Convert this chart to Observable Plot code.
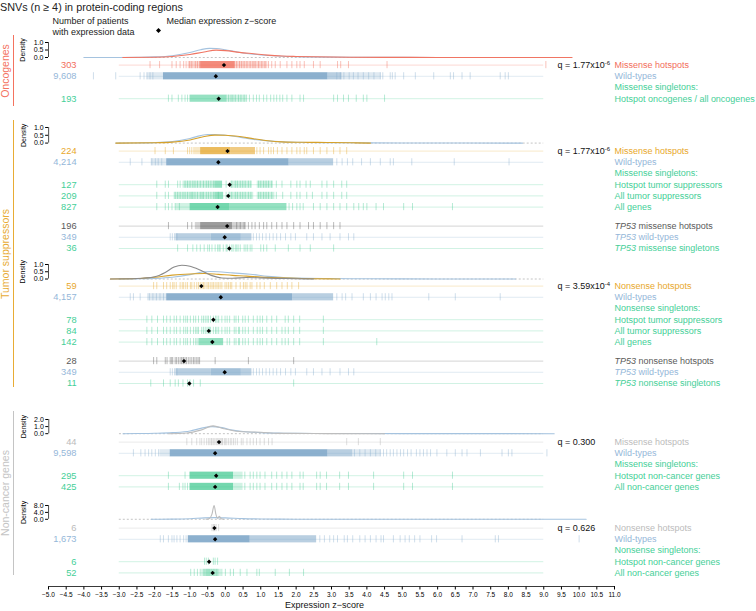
<!DOCTYPE html>
<html>
<head>
<meta charset="utf-8">
<script src="https://cdn.jsdelivr.net/npm/d3@7"></script>
<script src="https://cdn.jsdelivr.net/npm/@observablehq/plot@0.6"></script>
<style>
  html, body { margin: 0; padding: 0; background: #fff; }
  #chart { position: relative; width: 756px; height: 611px; font-family: "Liberation Sans", Arial, sans-serif; overflow: hidden; }
  #chart .abs { position: absolute; white-space: nowrap; line-height: 1; }
</style>
</head>
<body>
<div id="chart"></div>
<script>
// ---------------- DATA ----------------
const X_DOMAIN = [-5, 11];
const ROW_LINE = [-3, 9];
const X_TICKS = [-5.0,-4.5,-4.0,-3.5,-3.0,-2.5,-2.0,-1.5,-1.0,-0.5,0.0,0.5,1.0,1.5,2.0,2.5,3.0,3.5,4.0,4.5,5.0,5.5,6.0,6.5,7.0,7.5,8.0,8.5,9.0,9.5,10.0,10.5,11.0];

const rowKeys    = ["onco_hot","onco_wt","onco_sgl","ts_hot","ts_wt","ts_sgl_hot","ts_sgl_all","ts_sgl_genes","tp53_ms_hot","tp53_wt","tp53_ms_sgl","ts_ns_hot","ts_ns_wt","ts_ns_sgl_hot","ts_ns_sgl_all","ts_ns_sgl_genes","tp53_ns_hot","tp53_ns_sgl","nc_ms_hot","nc_ms_wt","nc_ms_sgl_hot","nc_ms_sgl_all","nc_ns_hot","nc_ns_wt","nc_ns_sgl_hot","nc_ns_sgl_all"];
const rowCounts  = [303,9608,193,224,4214,127,209,827,196,349,36,59,4157,78,84,142,28,11,44,9598,295,425,6,1673,6,52];
const rowMedians = [-0.04,-0.27,-0.19,0.06,-0.20,0.12,0.08,-0.22,0.05,-0.02,0.11,-0.68,-0.13,-0.34,-0.47,-0.37,-1.17,-1.02,-0.18,-0.29,-0.26,-0.29,-0.31,-0.29,-0.46,-0.36];
const rowGroups  = ["onco","wt","sgl","ts","wt","sgl","sgl","sgl","tp53","wt","sgl","ts","wt","sgl","sgl","sgl","tp53","sgl","nc","wt","sgl","sgl","nc","wt","sgl","sgl"];

// individual visible ticks (z-scores)
const T_ONCO_HOT = [-2.13,-1.86,-1.51,-1.39,-1.28,-1.18,-1.11,-1.01,-0.95,-0.85,-0.79,-0.73,0.32,0.40,0.46,0.53,0.61,0.70,0.78,0.84,0.94,1.03,1.12,1.22,1.31,1.41,1.55,1.74,1.88,2.02,2.11,2.23,2.49,2.68,3.17,3.26,3.48,4.57,9.06];
const T_ONCO_WT = [-3.73,-3.10,-2.41,-2.30,-2.22,-2.13,-2.05,3.15,3.25,3.35,3.50,3.62,3.75,3.90,4.05,4.20,4.38,4.45,4.66,4.72,4.80,5.04,5.37,5.89,6.36,6.45,6.69,6.92,7.77,7.91,8.00];
const T_ONCO_SGL = [-1.61,-1.51,-1.33,-1.23,-1.14,-1.07,0.09,0.16,0.21,0.28,0.37,0.44,0.53,0.60,0.68,0.79,0.88,0.96,1.08,1.17,1.28,1.37,1.45,1.54,1.62,1.74,1.88,2.11,2.21,3.06,3.17,3.34,3.48,3.70,3.90,4.00,4.50];
const T_TS_HOT = [-1.99,-1.70,-1.47,-1.07,-1.01,-0.95,0.89,0.98,1.08,1.22,1.29,1.36,1.47,1.60,1.74,1.88,2.02,2.11,2.23,2.30,2.49,2.68,2.87,3.06,3.24,3.43];
const T_TS_WT = [-2.69,-2.36,-2.08,-1.98,-1.90,-1.80,3.15,3.30,3.45,3.60,3.85,4.10,4.38,4.66,4.75,5.27,6.47,8.02];
const T_TS_SGL_HOT = [-1.94,-1.70,-1.61,-1.35,-1.28,-1.14,-1.07,-1.00,-0.92,-0.86,-0.79,-0.71,-0.62,-0.54,-0.48,-0.41,-0.34,0.02,0.18,0.28,0.34,0.42,0.49,0.56,0.65,0.72,0.94,1.00,1.08,1.15,1.22,1.31,1.44,1.60,1.85,2.02,2.11,2.28,2.40,2.73,2.87,3.06,3.29,3.43];
const T_TS_SGL_ALL = [-1.94,-1.70,-1.61,-1.42,-1.35,-1.28,-1.20,-1.14,-1.07,-1.00,-0.95,-0.92,-0.86,-0.79,-0.71,-0.66,-0.62,-0.54,-0.48,-0.41,-0.34,-0.20,0.02,0.10,0.18,0.28,0.34,0.42,0.49,0.56,0.65,0.72,0.94,1.00,1.08,1.15,1.22,1.31,1.44,1.62,1.85,2.02,2.11,2.30,2.46,2.73,2.87,3.06,3.29,3.43];
const T_TS_SGL_GENES = [-1.94,-1.70,-1.61,-1.51,-1.42,-1.30,1.80,1.90,2.02,2.11,2.20,2.49,2.68,2.87,3.06,3.24,3.43,3.63,3.77,3.90,4.00,4.26,4.47,5.04,5.29,6.42];
const T_TP53_MS_HOT = [-1.61,-1.07,-0.95,0.32,0.42,0.53,0.65,0.75,0.84,0.96,1.08,1.17,1.31,1.45,1.60,1.74,1.93,2.11,2.35,2.49,2.68,2.87,3.06,3.24];
const T_TP53_WT = [-1.56,-1.50,-1.44,-1.37,0.79,0.88,0.96,1.05,1.15,1.25,1.35,1.45,1.56,1.70,1.85,1.98,2.30,2.49,2.73,2.96,3.24,3.48,3.63];
const T_TP53_MS_SGL = [-1.35,-1.07,-0.92,-0.81,-0.71,-0.60,-0.50,-0.45,-0.38,-0.29,-0.22,-0.18,-0.15,-0.06,0.02,0.05,0.12,0.18,0.22,0.28,0.32,0.36,0.42,0.53,0.58,0.63,0.70,0.75,1.00,1.08,1.17,1.41,1.78,2.11,2.40,3.06];
const T_TS_NS_HOT = [-2.03,-1.94,-1.75,-1.66,-1.56,-1.49,-1.45,-1.39,-1.28,-1.22,-1.18,-1.12,-1.07,-0.99,-0.95,-0.88,-0.81,-0.76,-0.71,-0.66,-0.62,-0.58,-0.52,-0.48,-0.43,-0.38,-0.34,-0.29,-0.24,-0.20,-0.15,-0.10,-0.01,0.04,0.09,0.14,0.18,0.30,0.42,0.51,0.56,0.61,0.70,0.75,0.89,0.98,1.10,1.27,1.45,1.60,1.75,1.88,2.07];
const T_TS_NS_WT = [-2.69,-2.60,-2.41,-2.15,-2.05,-1.95,-1.85,-1.75,3.15,3.30,3.40,3.58,3.90,4.10,4.26,4.43,4.52,4.62,4.71,5.75,6.50,7.77];
const T_TS_NS_SGL_HOT = [-2.22,-2.08,-1.92,-1.75,-1.66,-1.56,-1.45,-1.38,-1.28,-1.18,-1.12,-1.07,-0.99,-0.90,-0.84,-0.76,-0.67,-0.62,-0.57,-0.52,-0.48,-0.42,-0.34,-0.28,-0.24,-0.19,-0.10,-0.01,0.05,0.12,0.25,0.30,0.37,0.49,0.56,0.65,0.79,0.90,0.98,1.05,1.17,1.31,1.45,1.69,1.78,1.93,2.10,2.77];
const T_TS_NS_SGL_ALL = [-2.22,-2.08,-1.92,-1.75,-1.66,-1.56,-1.45,-1.38,-1.28,-1.18,-1.12,-1.07,-0.99,-0.90,-0.84,-0.80,-0.76,-0.67,-0.62,-0.57,-0.52,-0.48,-0.45,-0.42,-0.34,-0.28,-0.24,-0.19,-0.10,-0.01,0.05,0.12,0.25,0.30,0.37,0.40,0.49,0.56,0.65,0.79,0.90,0.98,1.05,1.17,1.31,1.45,1.60,1.69,1.78,1.93,2.10,2.77];
const T_TS_NS_SGL_GENES = [-2.22,-2.08,-1.92,-1.75,-1.66,-1.56,-1.45,-1.38,-1.28,-1.18,-1.12,-1.07,-0.99,-0.90,-0.84,-0.80,0.05,0.12,0.25,0.30,0.37,0.40,0.49,0.56,0.65,0.79,0.90,0.98,1.05,1.17,1.31,1.45,1.60,1.69,1.78,1.93,2.10,2.77,4.28];
const T_TP53_NS_HOT = [-2.03,-1.94,-1.70,-1.65,-1.56,-1.52,-1.49,-1.42,-1.38,-1.33,-1.28,-1.24,-1.20,-1.18,-1.14,-1.10,-1.05,-1.00,-0.95,-0.90,-0.86,-0.81,-0.77,-0.73,-0.29,0.65,1.93];
const T_TP53_NS_SGL = [-2.11,-1.75,-1.56,-1.42,-1.33,-1.20,-1.07,-1.00,-0.90,-0.71,1.93];
const T_NC_MS_HOT = [-1.09,-0.95,-0.81,-0.72,-0.67,-0.60,-0.53,-0.48,-0.44,-0.40,-0.38,-0.34,-0.30,-0.26,-0.23,-0.20,-0.16,-0.13,-0.10,-0.08,-0.03,0.00,0.04,0.09,0.14,0.18,0.23,0.28,0.34,0.45,0.50,0.61,0.70,0.79,0.88,0.98,1.10,1.22,1.32,3.43,3.76,4.38];
const T_NC_MS_WT = [-2.60,-2.39,-2.27,-2.17,-2.08,-1.98,-1.89,3.65,3.80,3.95,4.10,4.25,4.38,4.47,4.56,4.66,4.75,4.85,4.95,5.04,5.15,5.25,5.40,5.50,5.60,5.70,5.80,5.98,6.26,6.50,6.69,6.83,7.21,7.82,8.00,8.10,9.09];
const T_NC_MS_SGL_HOT = [-1.61,-1.14,0.55,0.70,0.79,0.89,0.98,1.12,1.31,1.45,1.60,1.74,1.88,2.11,2.20,2.58,2.68,2.86,3.23,3.48,4.19,5.04,5.29,6.42];
const T_NC_MS_SGL_ALL = [-1.61,-1.30,-1.20,-1.14,-1.07,0.55,0.70,0.79,0.89,0.98,1.12,1.31,1.45,1.60,1.74,1.88,2.11,2.20,2.58,2.68,2.86,3.23,3.48,4.19,5.04,5.29,6.42];
const T_NC_NS_HOT = [-0.38,-0.34,-0.32,-0.30,-0.26,-0.19];
const T_NC_NS_WT = [-1.84,-1.75,-1.61,-1.51,-1.45,-1.37,-1.28,-1.18,-1.11,2.67,2.80,2.95,3.06,3.17,3.36,3.45,3.60,3.80,3.95,4.10,4.26,4.40,4.47,4.75,4.94,5.08,5.20,5.35,5.50,5.83,5.97,6.69,7.63,7.72,10.00];
const T_NC_NS_SGL_HOT = [-0.59,-0.54,-0.48,-0.34,-0.29,-0.22];
const T_NC_NS_SGL_ALL = [-0.98,-0.88,-0.79,-0.71,-0.66,-0.62,-0.58,-0.54,-0.51,-0.48,-0.45,-0.41,-0.38,-0.34,-0.30,-0.26,-0.23,-0.19,-0.15,-0.10,0.00,0.14,0.23,0.42,0.61,0.89,0.96,1.41,1.81,2.21];
const rowTicks = [T_ONCO_HOT,T_ONCO_WT,T_ONCO_SGL,T_TS_HOT,T_TS_WT,T_TS_SGL_HOT,T_TS_SGL_ALL,T_TS_SGL_GENES,T_TP53_MS_HOT,T_TP53_WT,T_TP53_MS_SGL,T_TS_NS_HOT,T_TS_NS_WT,T_TS_NS_SGL_HOT,T_TS_NS_SGL_ALL,T_TS_NS_SGL_GENES,T_TP53_NS_HOT,T_TP53_NS_SGL,T_NC_MS_HOT,T_NC_MS_WT,T_NC_MS_SGL_HOT,T_NC_MS_SGL_ALL,T_NC_NS_HOT,T_NC_NS_WT,T_NC_NS_SGL_HOT,T_NC_NS_SGL_ALL];

// ranges too dense to resolve single ticks: [from, to, density class]
const D_ONCO_HOT = [[-1.05,-0.70,"light"],[-0.70,0.28,"dense"],[0.28,1.20,"light"]];
const D_ONCO_WT = [[-2.20,-1.75,"light"],[-1.75,2.90,"solid"],[2.90,3.30,"mid"],[3.30,4.40,"light"]];
const D_ONCO_SGL = [[-1.00,0.05,"mid"],[0.05,0.60,"light"]];
const D_TS_HOT = [[-0.90,-0.70,"light"],[-0.70,0.15,"dense"],[0.15,0.85,"mid"]];
const D_TS_WT = [[-2.10,-1.66,"light"],[-1.66,1.80,"solid"],[1.80,3.06,"mid"]];
const D_TS_SGL_HOT = [[-1.20,-0.30,"light"],[-0.30,-0.08,"mid"],[0.15,0.75,"light"],[0.90,1.35,"light"]];
const D_TS_SGL_ALL = [[-1.45,-0.30,"light"],[-0.30,-0.05,"mid"],[0.12,0.80,"light"],[0.90,1.40,"light"]];
const D_TS_SGL_GENES = [[-1.40,-1.00,"light"],[-1.00,0.13,"dense"],[0.13,1.74,"mid"]];
const D_TP53_MS_HOT = [[-0.85,-0.70,"light"],[-0.70,0.20,"mid"],[0.20,0.60,"light"]];
const D_TP53_WT = [[-1.40,-0.40,"mid"],[-0.40,0.45,"dense"],[0.45,0.75,"mid"]];
const D_NONE = [];
const D_TS_NS_WT = [[-2.20,-1.66,"light"],[-1.66,1.90,"solid"],[1.90,3.06,"mid"]];
const D_TS_NS_SGL_GENES = [[-0.75,-0.05,"mid"]];
const D_NC_MS_WT = [[-1.85,-1.56,"light"],[-1.56,2.90,"solid"],[2.90,3.60,"mid"],[3.60,4.40,"light"]];
const D_NC_MS_SGL = [[-1.00,0.23,"dense"],[0.23,0.50,"light"]];
const D_NC_NS_WT = [[-1.05,0.70,"solid"],[0.70,2.58,"mid"]];
const D_NC_NS_SGL_ALL = [[-0.60,-0.20,"light"]];
const rowDense = [D_ONCO_HOT,D_ONCO_WT,D_ONCO_SGL,D_TS_HOT,D_TS_WT,D_TS_SGL_HOT,D_TS_SGL_ALL,D_TS_SGL_GENES,D_TP53_MS_HOT,D_TP53_WT,D_NONE,D_NONE,D_TS_NS_WT,D_NONE,D_NONE,D_TS_NS_SGL_GENES,D_NONE,D_NONE,D_NONE,D_NC_MS_WT,D_NC_MS_SGL,D_NC_MS_SGL,D_NONE,D_NC_NS_WT,D_NONE,D_NC_NS_SGL_ALL];

// row blocks: rows (null = header line only), right-hand labels, label groups, q values
const blockRows = [
  ["onco_hot","onco_wt",null,"onco_sgl"],
  ["ts_hot","ts_wt",null,"ts_sgl_hot","ts_sgl_all","ts_sgl_genes"],
  ["tp53_ms_hot","tp53_wt","tp53_ms_sgl"],
  ["ts_ns_hot","ts_ns_wt",null,"ts_ns_sgl_hot","ts_ns_sgl_all","ts_ns_sgl_genes"],
  ["tp53_ns_hot","tp53_wt","tp53_ns_sgl"],
  ["nc_ms_hot","nc_ms_wt",null,"nc_ms_sgl_hot","nc_ms_sgl_all"],
  ["nc_ns_hot","nc_ns_wt",null,"nc_ns_sgl_hot","nc_ns_sgl_all"]
];
const blockLabels = [
  ["Missense hotspots","Wild-types","Missense singletons:","Hotspot oncogenes / all oncogenes"],
  ["Missense hotspots","Wild-types","Missense singletons:","Hotspot tumor suppressors","All tumor suppressors","All genes"],
  ["TP53 missense hotspots","TP53 wild-types","TP53 missense singletons"],
  ["Nonsense hotspots","Wild-types","Nonsense singletons:","Hotspot tumor suppressors","All tumor suppressors","All genes"],
  ["TP53 nonsense hotspots","TP53 wild-types","TP53 nonsense singletons"],
  ["Missense hotspots","Wild-types","Missense singletons:","Hotspot non-cancer genes","All non-cancer genes"],
  ["Nonsense hotspots","Wild-types","Nonsense singletons:","Hotspot non-cancer genes","All non-cancer genes"]
];
const blockLabelGroups = [
  ["onco","wt","sgl","sgl"],
  ["ts","wt","sgl","sgl","sgl","sgl"],
  ["tp53","wt","sgl"],
  ["ts","wt","sgl","sgl","sgl","sgl"],
  ["tp53","wt","sgl"],
  ["nc","wt","sgl","sgl","sgl"],
  ["nc","wt","sgl","sgl","sgl"]
];
const blockQ = ["1.77x10^-6","1.77x10^-6",null,"3.59x10^-4",null,"0.300","0.626"];

// density curves: [z-score, density]
const DENS_ONCO_WT = [[-4.0,0],[-3.0,0.005],[-2.5,0.015],[-2.0,0.04],[-1.5,0.12],[-1.0,0.33],[-0.7,0.52],[-0.45,0.61],[-0.25,0.6],[0,0.52],[0.3,0.38],[0.6,0.27],[1.0,0.17],[1.5,0.1],[2.0,0.06],[3.0,0.025],[4.0,0.012],[6.0,0.004],[8.0,0]];
const DENS_ONCO_HOT = [[-2.9,0],[-2.0,0.02],[-1.5,0.07],[-1.0,0.2],[-0.6,0.37],[-0.26,0.49],[0,0.46],[0.4,0.34],[0.8,0.25],[1.2,0.16],[1.6,0.1],[2.0,0.07],[2.5,0.045],[3.0,0.03],[3.5,0.02],[4.5,0.01],[6.0,0.005],[9.8,0]];
const DENS_TSMS_WT = [[-3.1,0],[-2.5,0.01],[-2.0,0.03],[-1.5,0.1],[-1.0,0.3],[-0.7,0.48],[-0.5,0.55],[-0.3,0.55],[0,0.5],[0.4,0.38],[0.8,0.24],[1.2,0.14],[1.6,0.08],[2.0,0.05],[3.0,0.025],[4.0,0.015],[6.0,0.005],[8.4,0]];
const DENS_TSMS_HOT = [[-3.1,0],[-2.0,0.02],[-1.5,0.06],[-1.0,0.2],[-0.6,0.42],[-0.3,0.51],[0,0.5],[0.4,0.42],[0.8,0.28],[1.2,0.15],[1.6,0.08],[2.2,0.05],[3.0,0.04],[3.6,0.02],[4.1,0]];
const DENS_TSNS_WT = [[-3.0,0],[-2.5,0.01],[-2.0,0.04],[-1.5,0.12],[-1.0,0.3],[-0.65,0.48],[-0.43,0.52],[-0.2,0.5],[0.2,0.42],[0.7,0.33],[1.2,0.18],[1.64,0.1],[2.0,0.06],[3.0,0.03],[4.0,0.015],[6.0,0.005],[8.2,0]];
const DENS_TSNS_HOT = [[-3.25,0],[-2.5,0.03],[-2.0,0.12],[-1.5,0.27],[-1.0,0.35],[-0.6,0.38],[-0.2,0.32],[0.2,0.25],[0.6,0.2],[1.0,0.13],[1.5,0.08],[2.0,0.05],[2.5,0.02],[3.24,0]];
const DENS_TSNS_TP53 = [[-3.25,0],[-2.5,0.03],[-2.0,0.15],[-1.7,0.45],[-1.45,0.82],[-1.23,0.95],[-1.0,0.88],[-0.7,0.6],[-0.4,0.25],[-0.1,0.07],[0.2,0.05],[0.6,0.1],[1.0,0.08],[1.5,0.04],[2.0,0.02],[2.5,0]];
const DENS_NCMS_WT = [[-2.9,0],[-2.5,0.02],[-2.0,0.06],[-1.5,0.15],[-1.0,0.38],[-0.7,0.75],[-0.38,1.0],[-0.1,0.85],[0.2,0.5],[0.5,0.3],[1.0,0.15],[1.5,0.08],[2.0,0.05],[3.0,0.03],[5.0,0.01],[9.3,0]];
const DENS_NCMS_HOT = [[-1.6,0],[-1.1,0.1],[-0.7,0.5],[-0.35,1.1],[-0.05,0.7],[0.4,0.3],[1.0,0.2],[1.5,0.05],[2.5,0.02],[4.5,0]];
const DENS_NCNS_WT = [[-2.1,0],[-1.5,0.1],[-1.0,0.35],[-0.6,0.8],[-0.3,0.95],[0,0.8],[0.5,0.4],[1.0,0.2],[1.5,0.1],[2.0,0.06],[3.0,0.03],[5.0,0.01],[10.2,0]];
const DENS_NCNS_HOT = [[-0.55,0],[-0.45,0.5],[-0.38,3.0],[-0.32,8.0],[-0.27,3.0],[-0.22,0.6],[-0.17,1.8],[-0.12,0.3],[-0.05,0]];

const densYmax = [1, 1, 1, 2, 8];
const densCurves = [
  [[ "wt", DENS_ONCO_WT ], [ "onco", DENS_ONCO_HOT ]],
  [[ "wt", DENS_TSMS_WT ], [ "ts", DENS_TSMS_HOT ]],
  [[ "wt", DENS_TSNS_WT ], [ "ts", DENS_TSNS_HOT ], [ "tp53", DENS_TSNS_TP53 ]],
  [[ "wt", DENS_NCMS_WT ], [ "nc", DENS_NCMS_HOT ]],
  [[ "wt", DENS_NCNS_WT ], [ "nc", DENS_NCNS_HOT ]]
];

const sectionNames = ["Oncogenes", "Tumor suppressors", "Non-cancer genes"];
const sectionGroups = ["onco", "ts", "nc"];

// ---------------- STYLE & LAYOUT ----------------
const FONT = '"Liberation Sans", Arial, sans-serif';
const W = 756, ML = 48, MR = 142;
const SLOT = 11.2, TH = 0.32;
const COLORS = {
  onco: {mark: "#EF5E49", text: "#F26D5B", curve: "#F07563", section: "#F4735F"},
  wt:   {mark: "#7FA7C9", text: "#95B7D9", curve: "#A5C3DF"},
  sgl:  {mark: "#3FC88F", text: "#45CF98"},
  ts:   {mark: "#E3A11E", text: "#E8A82C", curve: "#D6A12A", section: "#E8AC35"},
  tp53: {mark: "#4A4A4A", text: "#5A5A5A", curve: "#8A8A8A"},
  nc:   {mark: "#A8A8A8", text: "#BBBBBB", curve: "#BDBDBD", section: "#C4C4C4"}
};
const LEVEL_OPACITY = {solid: 0.9, dense: 0.72, mid: 0.55, light: 0.24};
const blockFirstY = [65, 150.7, 225.3, 285.5, 361, 441.9, 527.3];
const densBase = [57.3, 142.3, 278, 433.6, 518.8];
const densTop  = [42.3, 126.7, 263.5, 419.4, 505.0];
const sectionSpan = [[35, 106], [120, 387], [411, 575]];
const AXIS_Y = 586;

// ---------------- BUILD ----------------
const chart = document.getElementById("chart");
const rowTable = {};
rowKeys.forEach((k, i) => {
  rowTable[k] = {key: k, count: rowCounts[i], median: rowMedians[i], group: rowGroups[i], ticks: rowTicks[i], dense: rowDense[i]};
});

function place(node, top) {
  const wrap = document.createElement("div");
  wrap.style.position = "absolute";
  wrap.style.left = "0px";
  wrap.style.top = top + "px";
  wrap.appendChild(node);
  chart.appendChild(wrap);
}
const svgStyle = (fs) => ({background: "none", overflow: "visible", fontFamily: FONT, fontSize: fs});

function enrich(svg) {
  const NS = "http://www.w3.org/2000/svg";
  svg.querySelectorAll("text").forEach(t => {
    const s = t.textContent;
    if (s.includes("^")) {
      const [base, exp] = s.split("^");
      t.textContent = base;
      const sp = document.createElementNS(NS, "tspan");
      sp.setAttribute("dy", "-0.45em");
      sp.setAttribute("font-size", "0.66em");
      sp.textContent = exp;
      t.appendChild(sp);
    } else if (s.startsWith("TP53 ")) {
      t.textContent = "";
      const a = document.createElementNS(NS, "tspan");
      a.setAttribute("font-style", "italic");
      a.textContent = "TP53";
      const b = document.createElementNS(NS, "tspan");
      b.textContent = s.slice(4);
      t.appendChild(a); t.appendChild(b);
    }
  });
  return svg;
}

function rowBlock(b) {
  const slots = blockRows[b];
  const n = slots.length, h = n * SLOT;
  const rowsIn = slots.map((k, i) => k ? {...rowTable[k], slot: i} : null).filter(Boolean);
  const labels = blockLabels[b].map((t, i) => ({t, slot: i, color: COLORS[blockLabelGroups[b][i]].text}));
  const ticks = rowsIn.flatMap(r => r.ticks.map(v => ({v, slot: r.slot, color: COLORS[r.group].mark})));
  const dense = rowsIn.flatMap(r => r.dense.map(([x1, x2, lvl]) => ({x1, x2, lvl, slot: r.slot, color: COLORS[r.group].mark})));
  const marks = [
    Plot.ruleY(rowsIn, {y: "slot", x1: ROW_LINE[0], x2: ROW_LINE[1], stroke: d => COLORS[d.group].mark, strokeOpacity: 0.3, strokeWidth: 0.8}),
    ...Object.keys(LEVEL_OPACITY).map(l => Plot.rect(dense.filter(d => d.lvl === l), {x1: "x1", x2: "x2", y1: d => d.slot - TH, y2: d => d.slot + TH, fill: "color", fillOpacity: LEVEL_OPACITY[l]})),
    Plot.ruleX(ticks, {x: "v", y1: d => d.slot - TH, y2: d => d.slot + TH, stroke: "color", strokeOpacity: 0.42, strokeWidth: 0.9}),
    Plot.dot(rowsIn, {x: "median", y: "slot", symbol: "diamond2", r: 2.0, fill: "black", stroke: "none"}),
    Plot.text(rowsIn, {y: "slot", frameAnchor: "left", dx: 28, textAnchor: "end", text: d => d3.format(",")(d.count), fill: d => COLORS[d.group].text, fontSize: 9.3}),
    Plot.text(labels, {y: "slot", frameAnchor: "right", textAnchor: "start", text: "t", fill: "color", fontSize: 9})
  ];
  if (blockQ[b]) marks.push(Plot.text([{q: "q = " + blockQ[b], slot: 0}], {y: "slot", frameAnchor: "right", dx: -57, textAnchor: "start", text: "q", fill: "#111", fontSize: 9}));
  const svg = Plot.plot({
    width: W, height: h, marginLeft: ML, marginRight: MR, marginTop: 0, marginBottom: 0,
    x: {domain: X_DOMAIN, axis: null},
    y: {domain: [-0.5, n - 0.5], range: [0, h], axis: null},
    color: {type: "identity"},
    style: svgStyle("9px"),
    marks
  });
  place(enrich(svg), blockFirstY[b] - SLOT / 2);
}

function densPanel(p) {
  const h = densBase[p] - densTop[p];
  const ymax = densYmax[p];
  const marks = [
    Plot.ruleY([0], {x1: ROW_LINE[0], x2: ROW_LINE[1], stroke: "#b5b5b5", strokeDasharray: "2,2", strokeWidth: 0.8}),
    ...densCurves[p].map(([g, pts]) => Plot.line(pts, {x: d => d[0], y: d => d[1], stroke: COLORS[g].curve, strokeWidth: 1.1, curve: "monotone-x"})),
    Plot.ruleX([X_DOMAIN[0]], {y1: 0, y2: ymax, stroke: "#222", strokeWidth: 0.8})
  ];
  const svg = Plot.plot({
    width: W, height: h, marginLeft: ML, marginRight: MR, marginTop: 0, marginBottom: 0,
    x: {domain: X_DOMAIN, axis: null},
    y: {domain: [0, ymax], range: [h, 0], ticks: [0, ymax / 2, ymax], tickFormat: d => d.toFixed(1), tickSize: 3, tickPadding: 2, label: "Density", labelArrow: "none", labelAnchor: "center", labelOffset: 28},
    style: svgStyle("7px"),
    marks
  });
  place(svg, densTop[p]);
}

function axisPanel() {
  const svg = Plot.plot({
    width: W, height: 40, marginLeft: ML, marginRight: MR, marginTop: 10, marginBottom: 25,
    x: {domain: X_DOMAIN, ticks: X_TICKS, tickFormat: d => d.toFixed(1).replace("-", "\u2212"), tickSize: 3.5, tickPadding: 2, label: null},
    y: {domain: [0, 1], axis: null},
    style: svgStyle("6.5px"),
    marks: [
      Plot.ruleY([0], {stroke: "#222", strokeWidth: 0.9}),
      Plot.text(["Expression z\u2212score"], {frameAnchor: "bottom", dy: 21, dx: -7, fontSize: 9, fill: "#111"})
    ]
  });
  place(svg, AXIS_Y - 15);
}

function html(tag, text, css) {
  const el = document.createElement(tag);
  el.className = "abs";
  if (text != null) el.textContent = text;
  Object.assign(el.style, css);
  chart.appendChild(el);
  return el;
}

// header
html("div", "SNVs (n \u2265 4) in protein-coding regions", {left: "0px", top: "2.2px", fontSize: "10.8px", color: "#222"});
html("div", "Number of patients", {left: "52.5px", top: "16.8px", fontSize: "9px", color: "#222"});
html("div", "with expression data", {left: "52.5px", top: "27.8px", fontSize: "9px", color: "#222"});
const leg = html("div", null, {left: "155.5px", top: "19.5px", width: "5px", height: "5px"});
leg.innerHTML = '<svg width="5" height="5"><polygon points="2.5,0 5,2.5 2.5,5 0,2.5" fill="#000"/></svg>';
html("div", "Median expression z\u2212score", {left: "166.5px", top: "16.8px", fontSize: "9px", color: "#222"});

// section labels
sectionNames.forEach((name, i) => {
  const [y1, y2] = sectionSpan[i];
  const c = COLORS[sectionGroups[i]].section;
  html("div", null, {left: "12.5px", top: y1 + "px", height: (y2 - y1) + "px", width: "0px", borderLeft: "1px solid " + c});
  html("div", name, {left: "5px", top: ((y1 + y2) / 2) + "px", fontSize: "10.5px", color: c, transform: "translate(-50%,-50%) rotate(-90deg)"});
});

for (let p = 0; p < densYmax.length; p++) densPanel(p);
for (let b = 0; b < blockRows.length; b++) rowBlock(b);
axisPanel();
</script>
</body>
</html>
